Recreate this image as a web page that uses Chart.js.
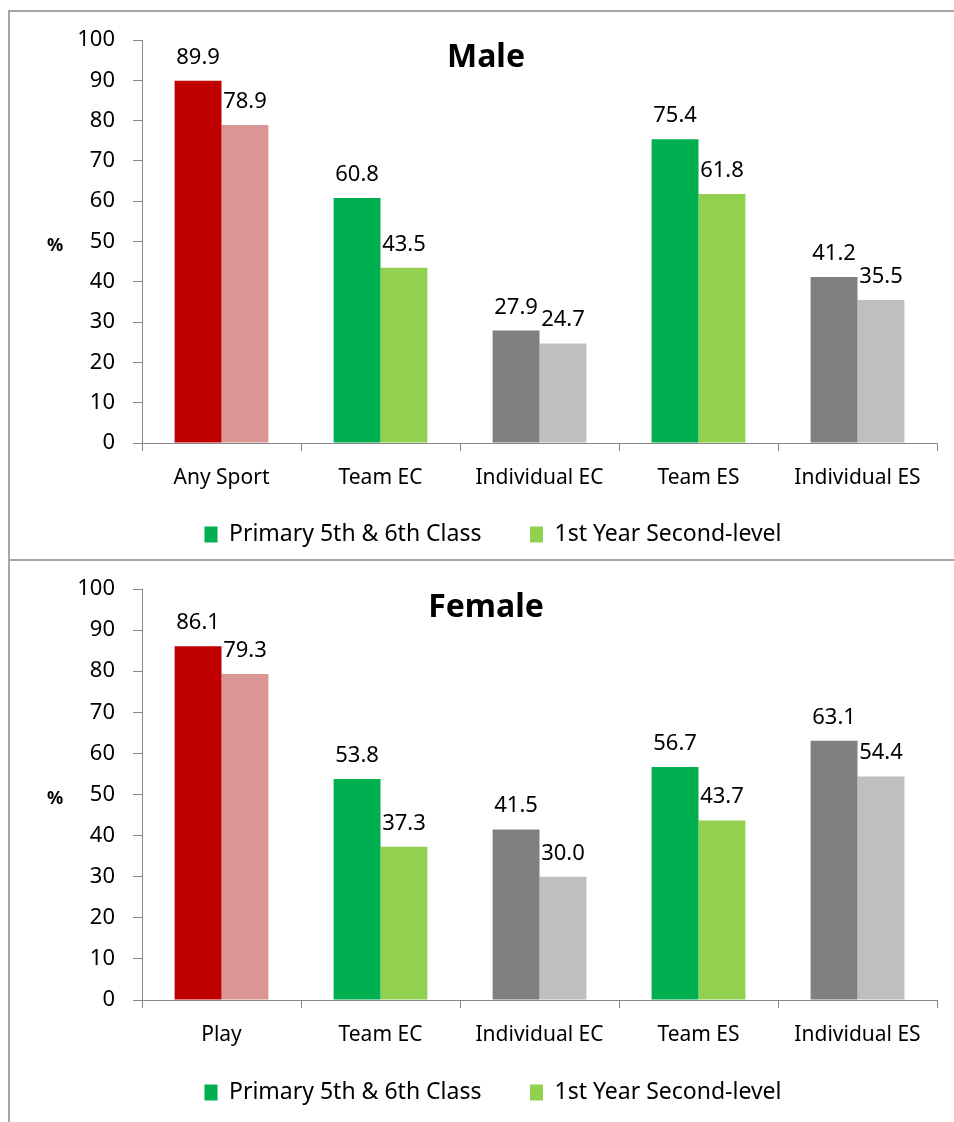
<!DOCTYPE html>
<html>
<head>
<meta charset="utf-8">
<script src="https://cdn.jsdelivr.net/npm/chart.js@4.4.1/dist/chart.umd.min.js"></script>
<style>
  html, body { margin: 0; padding: 0; background: #fff; overflow: hidden; width: 954px; height: 1122px; }
  .box { position: absolute; left: 8px; width: 960px; border-left: 2px solid #a6a6a6; overflow: hidden; }
  #box1 { top: 10px; height: 548px; border-top: 2px solid #a6a6a6; }
  #box2 { top: 559px; height: 563px; border-top: 2px solid #a6a6a6; }
  canvas { display: block; }
</style>
</head>
<body>
<div class="box" id="box1"><canvas id="c1" width="952" height="548" style="width:952px;height:548px"></canvas></div>
<div class="box" id="box2"><canvas id="c2" width="952" height="561" style="width:952px;height:561px"></canvas></div>
<script>
const maleCategories = ["Any Sport", "Team EC", "Individual EC", "Team ES", "Individual ES"];
const femaleCategories = ["Play", "Team EC", "Individual EC", "Team ES", "Individual ES"];
const seriesNames = ["Primary 5th & 6th Class", "1st Year Second-level"];
const malePrimary = [89.9, 60.8, 27.9, 75.4, 41.2];
const maleSecond = [78.9, 43.5, 24.7, 61.8, 35.5];
const femalePrimary = [86.1, 53.8, 41.5, 56.7, 63.1];
const femaleSecond = [79.3, 37.3, 30.0, 43.7, 54.4];
const yTicks = [0, 10, 20, 30, 40, 50, 60, 70, 80, 90, 100];

const primaryColors = ["#C00000", "#00B050", "#808080", "#00B050", "#808080"];
const secondColors = ["#D99694", "#92D050", "#BFBFBF", "#92D050", "#BFBFBF"];
const legendColors = ["#00B050", "#92D050"];
const FONT = "'Noto Sans', 'Open Sans', sans-serif";
const AXIS = "#868686";

const overlay = {
  id: 'overlay',
  afterDatasetsDraw(chart, args, opts) {
    const ctx = chart.ctx;
    ctx.save();
    ctx.fillStyle = '#000';
    ctx.font = "22px " + FONT;
    ctx.textAlign = 'center';
    ctx.textBaseline = 'alphabetic';
    chart.data.datasets.forEach((ds, i) => {
      const meta = chart.getDatasetMeta(i);
      meta.data.forEach((el, j) => {
        ctx.fillText(ds.data[j].toFixed(1), el.x, el.y - 17);
      });
    });
    ctx.font = "bold 32px " + FONT;
    ctx.textBaseline = 'middle';
    ctx.fillText(opts.title, chart.width / 2, opts.titleY);
    ctx.font = "bold 18px " + FONT;
    const ca = chart.chartArea;
    ctx.fillText('%', 45, (ca.top + ca.bottom) / 2 + 4);
    ctx.restore();
  }
};

function legendItems(chart) {
  const items = chart.data.datasets.map((ds, i) => ({
    text: ds.label, fillStyle: legendColors[i], strokeStyle: legendColors[i],
    lineWidth: 0, hidden: false, datasetIndex: i, fontColor: '#000'
  }));
  // transparent spacer between the two entries
  items.splice(1, 0, { text: '', fillStyle: 'rgba(0,0,0,0)', strokeStyle: 'rgba(0,0,0,0)',
    lineWidth: 0, hidden: false, fontColor: '#000' });
  return items;
}

function makeChart(id, cats, prim, sec, title, titleY, padTop, xHeight, padBottom) {
  return new Chart(document.getElementById(id), {
    type: 'bar',
    data: {
      labels: cats,
      datasets: [
        { label: seriesNames[0], data: prim, backgroundColor: primaryColors, borderWidth: 0,
          categoryPercentage: 0.59, barPercentage: 1.0 },
        { label: seriesNames[1], data: sec, backgroundColor: secondColors, borderWidth: 0,
          categoryPercentage: 0.59, barPercentage: 1.0 }
      ]
    },
    plugins: [overlay],
    options: {
      responsive: false,
      animation: false,
      layout: { padding: { top: padTop, right: 25, bottom: padBottom, left: 39 } },
      scales: {
        x: {
          offset: true,
          grid: { display: true, offset: true, drawOnChartArea: false, drawTicks: true, tickLength: 8, color: AXIS },
          border: { display: true, color: AXIS, width: 1 },
          ticks: { color: '#000', font: { family: FONT, size: 21 }, padding: 14, maxRotation: 0, autoSkip: false },
          afterFit(s) { s.height = xHeight; }
        },
        y: {
          min: 0, max: 100,
          afterBuildTicks(s) { s.ticks = yTicks.map(v => ({ value: v })); },
          grid: { display: true, drawOnChartArea: false, drawTicks: true, tickLength: 9, color: AXIS },
          border: { display: true, color: AXIS, width: 1 },
          ticks: { color: '#000', font: { family: FONT, size: 22 }, padding: 18 },
          afterFit(s) { s.width = 93; s.paddingTop = 0; s.paddingBottom = 0; }
        }
      },
      plugins: {
        overlay: { title: title, titleY: titleY },
        tooltip: { enabled: false },
        title: { display: false },
        legend: {
          position: 'bottom',
          labels: {
            color: '#000',
            font: { family: FONT, size: 23 },
            boxWidth: 13, boxHeight: 16,
            padding: 12,
            generateLabels: legendItems
          }
        }
      }
    }
  });
}

makeChart('c1', maleCategories, malePrimary, maleSecond, 'Male', 46, 28, 68, 4);
makeChart('c2', femaleCategories, femalePrimary, femaleSecond, 'Female', 47, 28, 69, 8);
</script>
</body>
</html>
